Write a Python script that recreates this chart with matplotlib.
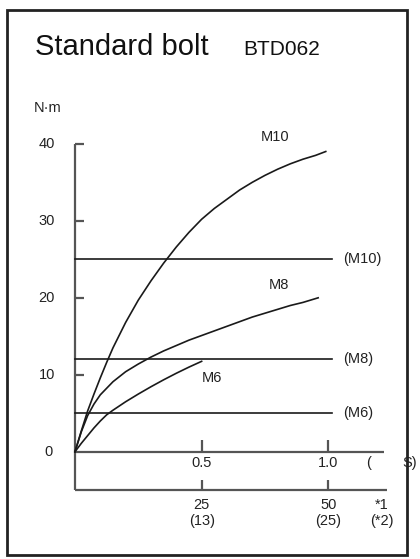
import matplotlib
matplotlib.use("Agg")
import matplotlib.pyplot as plt
from matplotlib.patches import Rectangle

plt.rcParams["font.family"] = ["Liberation Sans", "DejaVu Sans"]

# torque curves (time in s, torque in N·m)
m10_x = [0, 0.025, 0.05, 0.075, 0.1, 0.125, 0.15, 0.2, 0.25, 0.3, 0.35, 0.4, 0.45,
         0.5, 0.55, 0.6, 0.65, 0.7, 0.75, 0.8, 0.85, 0.9, 0.95, 0.99]
m10_y = [0, 2.7, 5.3, 7.5, 9.6, 11.6, 13.5, 16.8, 19.7, 22.2, 24.5, 26.6, 28.5,
         30.2, 31.6, 32.8, 34.0, 35.0, 35.9, 36.7, 37.4, 38.0, 38.5, 39.0]
m8_x = [0, 0.025, 0.05, 0.075, 0.1, 0.15, 0.2, 0.25, 0.3, 0.35, 0.4, 0.45, 0.5,
        0.55, 0.6, 0.65, 0.7, 0.75, 0.8, 0.85, 0.9, 0.96]
m8_y = [0, 2.6, 4.7, 6.2, 7.4, 9.1, 10.4, 11.4, 12.3, 13.1, 13.8, 14.5, 15.1,
        15.7, 16.3, 16.9, 17.5, 18.0, 18.5, 19.0, 19.4, 20.0]
m6_x = [0, 0.025, 0.05, 0.075, 0.1, 0.125, 0.15, 0.2, 0.25, 0.3, 0.35, 0.4, 0.45, 0.5]
m6_y = [0, 1.1, 2.1, 3.1, 4.0, 4.8, 5.4, 6.5, 7.5, 8.45, 9.35, 10.2, 11.0, 11.75]

# allowed torque levels
limit_names = ["(M10)", "(M8)", "(M6)"]
limit_values = [25, 12, 5]
limit_end = 1.015

y_ticks = [0, 10, 20, 30, 40]
time_ticks = [0.5, 1.0]
time_labels = ["0.5", "1.0"]
count_labels = ["25", "50"]
count_labels2 = ["(13)", "(25)"]

W, H = 420, 559
fig = plt.figure(figsize=(W / 100, H / 100), dpi=100)

# outer frame
fig.patches.append(Rectangle((7 / W, 4 / H), 400 / W, 545 / H, transform=fig.transFigure,
                             fill=False, edgecolor="#222222", linewidth=2.0))

fig.text(35 / W, 1 - 55 / H, "Standard bolt", fontsize=21, color="#111111", va="baseline")
fig.text(243 / W, 1 - 55 / H, "BTD062", fontsize=15, color="#111111", va="baseline")
fig.text(34 / W, 1 - 112 / H, "N·m", fontsize=10.5, color="#222222", va="baseline")

ax = fig.add_axes([62.3 / W, (H - 513.4) / H, 342 / W, 385 / H])
ax.set_xlim(-0.05, 1.3)
ax.set_ylim(-8, 42)
ax.axis("off")

axis_kw = dict(color="#555555", linewidth=1.6, solid_capstyle="butt", clip_on=False)
line_kw = dict(color="#1a1a1a", linewidth=1.2, clip_on=False)
txt_kw = dict(fontsize=10.5, color="#222222", clip_on=False)

# vertical axis with ticks
ax.plot([0, 0], [-5, 40], **axis_kw)
for t in y_ticks[1:]:
    ax.plot([0, 0.036], [t, t], **axis_kw)
for t in y_ticks:
    ax.text(-0.079 if t else -0.087, t, str(t), ha="right", va="center", **txt_kw)

# time axis and count axis
ax.plot([0, 1.22], [0, 0], **axis_kw)
ax.plot([0, 1.23], [-5, -5], **axis_kw)
for t, lab, c1, c2 in zip(time_ticks, time_labels, count_labels, count_labels2):
    ax.plot([t, t], [0, 1.5], **axis_kw)
    ax.plot([t, t], [-5, -3.7], **axis_kw)
    ax.text(t, -1.5, lab, ha="center", va="center", **txt_kw)
    ax.text(t, -6.9, c1, ha="center", va="center", **txt_kw)
    ax.text(t, -9.0, c2, ha="center", va="center", **txt_kw)
ax.text(1.16, -1.5, "(", ha="center", va="center", **txt_kw)
ax.text(1.32, -1.5, "S)", ha="center", va="center", **txt_kw)
ax.text(1.21, -6.9, "*1", ha="center", va="center", **txt_kw)
ax.text(1.21, -9.0, "(*2)", ha="center", va="center", **txt_kw)

# limit lines
for name, v in zip(limit_names, limit_values):
    ax.plot([0, limit_end], [v, v], **line_kw)
    ax.text(1.058, v, name, ha="left", va="center", **txt_kw)

# curves
ax.plot(m10_x, m10_y, **line_kw)
ax.plot(m8_x, m8_y, **line_kw)
ax.plot(m6_x, m6_y, **line_kw)
ax.text(0.79, 40.9, "M10", ha="center", va="center", **txt_kw)
ax.text(0.805, 21.6, "M8", ha="center", va="center", **txt_kw)
ax.text(0.54, 9.6, "M6", ha="center", va="center", **txt_kw)

fig.savefig("out.png", dpi=100)
